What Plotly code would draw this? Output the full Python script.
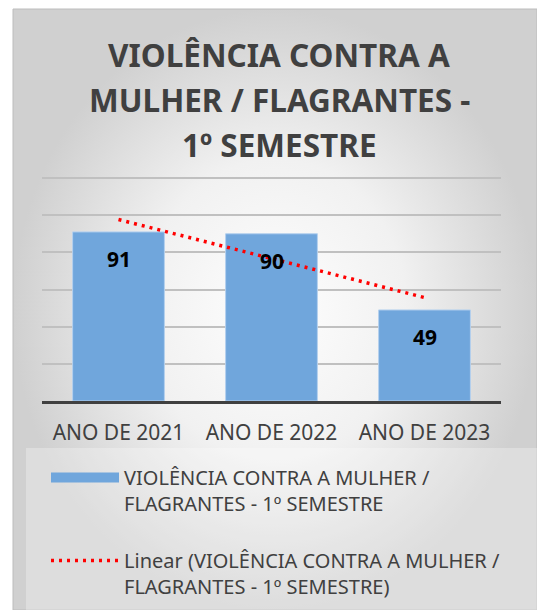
import numpy as np
import plotly.graph_objects as go

# ---- data ----
categories = ["ANO DE 2021", "ANO DE 2022", "ANO DE 2023"]
values = [91, 90, 49]
series_name = "VIOLÊNCIA CONTRA A MULHER /<br>FLAGRANTES - 1º SEMESTRE"
trend_name = "Linear (VIOLÊNCIA CONTRA A MULHER /<br>FLAGRANTES - 1º SEMESTRE)"
title_lines = ["VIOLÊNCIA CONTRA A", "MULHER / FLAGRANTES -", "1º SEMESTRE"]
y_ticks = [0, 20, 40, 60, 80, 100, 120]

W, H = 537, 610
FONT = "Noto Sans"
TXT = "#404040"
BAR = "#70A6DC"

# linear trendline (least squares fit of the series, as the original chart)
idx = np.arange(len(values))
slope, intercept = np.polyfit(idx, values, 1)
trend = slope * idx + intercept

fig = go.Figure()

# chart-area background with radial gradient (pixel coordinates)
fig.add_trace(go.Scatter(
    x=[13, 537, 537, 13, 13], y=[9, 9, 610, 610, 9],
    mode="lines", fill="toself",
    fillgradient=dict(type="radial",
                      colorscale=[[0, "#fefefe"], [0.5, "#f1f1f1"], [1, "#d0d0d0"]]),
    line=dict(color="#bcbcbc", width=1),
    hoverinfo="skip", showlegend=False, xaxis="x", yaxis="y",
))

fig.add_trace(go.Bar(
    x=categories, y=values, name=series_name,
    marker=dict(color=BAR, line=dict(color="#B4D0EE", width=1)),
    xaxis="x2", yaxis="y2", showlegend=False,
))
# legend entry for the bar series drawn as a wide swatch
fig.add_trace(go.Scatter(
    x=[None], y=[None], mode="lines", name=series_name,
    line=dict(color=BAR, width=13),
    xaxis="x2", yaxis="y2", legendgroup="a", hoverinfo="skip",
))

fig.add_trace(go.Scatter(
    x=categories, y=trend, mode="lines", name=trend_name,
    line=dict(color="#FF0000", width=3.5, dash="3px,5px"),
    xaxis="x2", yaxis="y2", legendgroup="b",
))

annotations = []
for i, line in enumerate(title_lines):
    annotations.append(dict(
        x=279 / W, y=1 - (55 + 45 * i) / H, xref="paper", yref="paper",
        text=f"<b>{line}</b>", showarrow=False, xanchor="center", yanchor="middle",
        font=dict(family=FONT, size=31.5, color=TXT),
    ))
for c, v in zip(categories, values):
    annotations.append(dict(
        x=c, y=v, xref="x2", yref="y2", text=f"<b>{v}</b>", showarrow=False,
        yshift=-27, font=dict(family=FONT, size=21, color="black"),
    ))

Y_MAX = 121
px_per_unit = (401 - 178) / 120
plot_top = 401 - Y_MAX * px_per_unit

fig.update_layout(
    width=W, height=H,
    margin=dict(l=0, r=0, t=0, b=0),
    paper_bgcolor="white",
    plot_bgcolor="rgba(0,0,0,0)",
    font=dict(family=FONT, color=TXT),
    bargap=0.4,
    showlegend=True,
    xaxis=dict(domain=[0, 1], range=[0, W], visible=False, fixedrange=True),
    yaxis=dict(domain=[0, 1], range=[H, 0], visible=False, fixedrange=True),
    xaxis2=dict(
        domain=[42 / W, 501 / W], anchor="y2",
        showline=True, linecolor="#404040", linewidth=3,
        showgrid=False, ticks="", ticklabelstandoff=11,
        tickfont=dict(family=FONT, size=21, color=TXT),
    ),
    yaxis2=dict(
        domain=[1 - 401 / H, 1 - plot_top / H], anchor="x2",
        range=[0, Y_MAX], tickvals=y_ticks, showticklabels=False,
        showgrid=True, gridcolor="#c0c0c0", gridwidth=1.5,
        zeroline=False, showline=False,
    ),
    legend=dict(
        x=46 / W, y=1 - 458 / H, xanchor="left", yanchor="top",
        bgcolor="rgba(0,0,0,0)", font=dict(family=FONT, size=20, color=TXT),
        traceorder="grouped", tracegroupgap=28, itemwidth=68, valign="top",
    ),
    shapes=[dict(
        type="rect", xref="paper", yref="paper",
        x0=26 / W, x1=1, y0=0, y1=1 - 448 / H,
        fillcolor="rgba(255,255,255,0.28)", line=dict(width=0), layer="above",
    )],
    annotations=annotations,
)

fig.write_html(
    "out.html",
    config={"displayModeBar": False},
    post_script="document.body.style.margin='0';document.body.style.overflow='hidden';",
)
